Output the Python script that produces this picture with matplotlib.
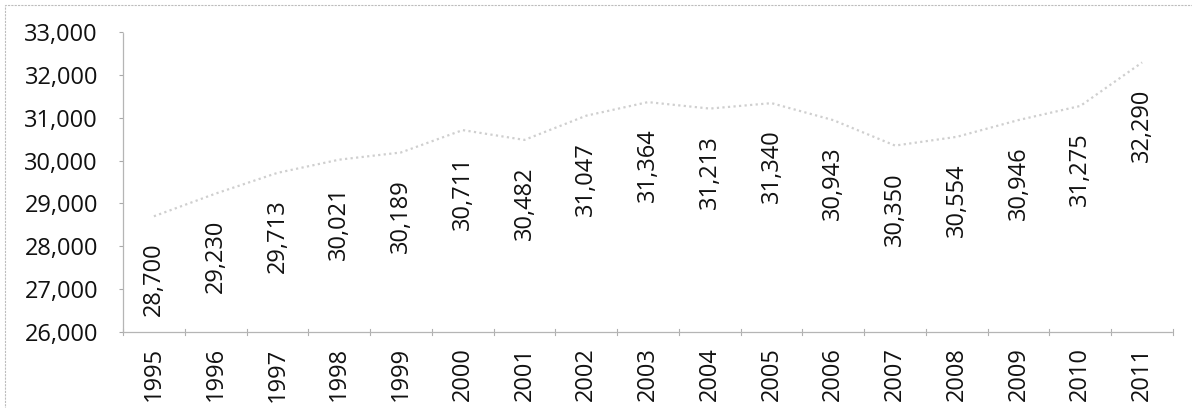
import matplotlib
matplotlib.use("Agg")
from matplotlib import pyplot as plt
from matplotlib.patches import Rectangle

years = [str(y) for y in range(1995, 2012)]
values = [28700, 29230, 29713, 30021, 30189, 30711, 30482, 31047, 31364,
          31213, 31340, 30943, 30350, 30554, 30946, 31275, 32290]
y_ticks = [26000, 27000, 28000, 29000, 30000, 31000, 32000, 33000]

plt.rcParams['font.family'] = ['Open Sans', 'DejaVu Sans']

W, H = 1192, 408
fig = plt.figure(figsize=(W / 100, H / 100), dpi=100)
ax = fig.add_axes([123 / W, 1 - 332 / H, (1173 - 123) / W, (332 - 32) / H])

x = list(range(len(years)))
ax.plot(x, values, color="#cfcfcf", lw=1.6, ls=(0, (1, 1.5)))

# data labels, rotated, below each point
for xi, v in zip(x, values):
    ax.annotate(f"{v:,}", (xi, v), xytext=(0, -19), textcoords="offset points",
                rotation=90, ha="center", va="top", fontsize=17, color="#111111")

ax.set_xlim(-0.5, len(years) - 0.5)
ax.set_ylim(26000, 33000)
ax.set_yticks(y_ticks)
ax.set_yticklabels([f"{t:,}" for t in y_ticks], fontsize=17, color="#111111")
ax.set_xticks(x)
ax.set_xticklabels(years, rotation=90, fontsize=17, color="#111111", va="top")
ax.tick_params(axis="x", length=0, pad=11)
ax.tick_params(axis="y", length=3, color="#aaaaaa", pad=15)

# category separator ticks crossing the x axis
for b in range(len(years) + 1):
    ax.plot([b - 0.5, b - 0.5], [25920, 26080], color="#b0b0b0", lw=0.8, clip_on=False)

for s in ["top", "right"]:
    ax.spines[s].set_visible(False)
for s in ["left", "bottom"]:
    ax.spines[s].set_color("#b5b5b5")
    ax.spines[s].set_linestyle((0, (2, 1)))
    ax.spines[s].set_linewidth(0.9)

# dotted chart frame from the scan
fig.patches.append(Rectangle((5 / W, -0.01), 1.1, 1 - 5 / H + 0.01,
                             transform=fig.transFigure, fill=False,
                             ec="#bdbdbd", lw=0.8, ls=(0, (2, 1))))

fig.savefig("out.png", dpi=100)
